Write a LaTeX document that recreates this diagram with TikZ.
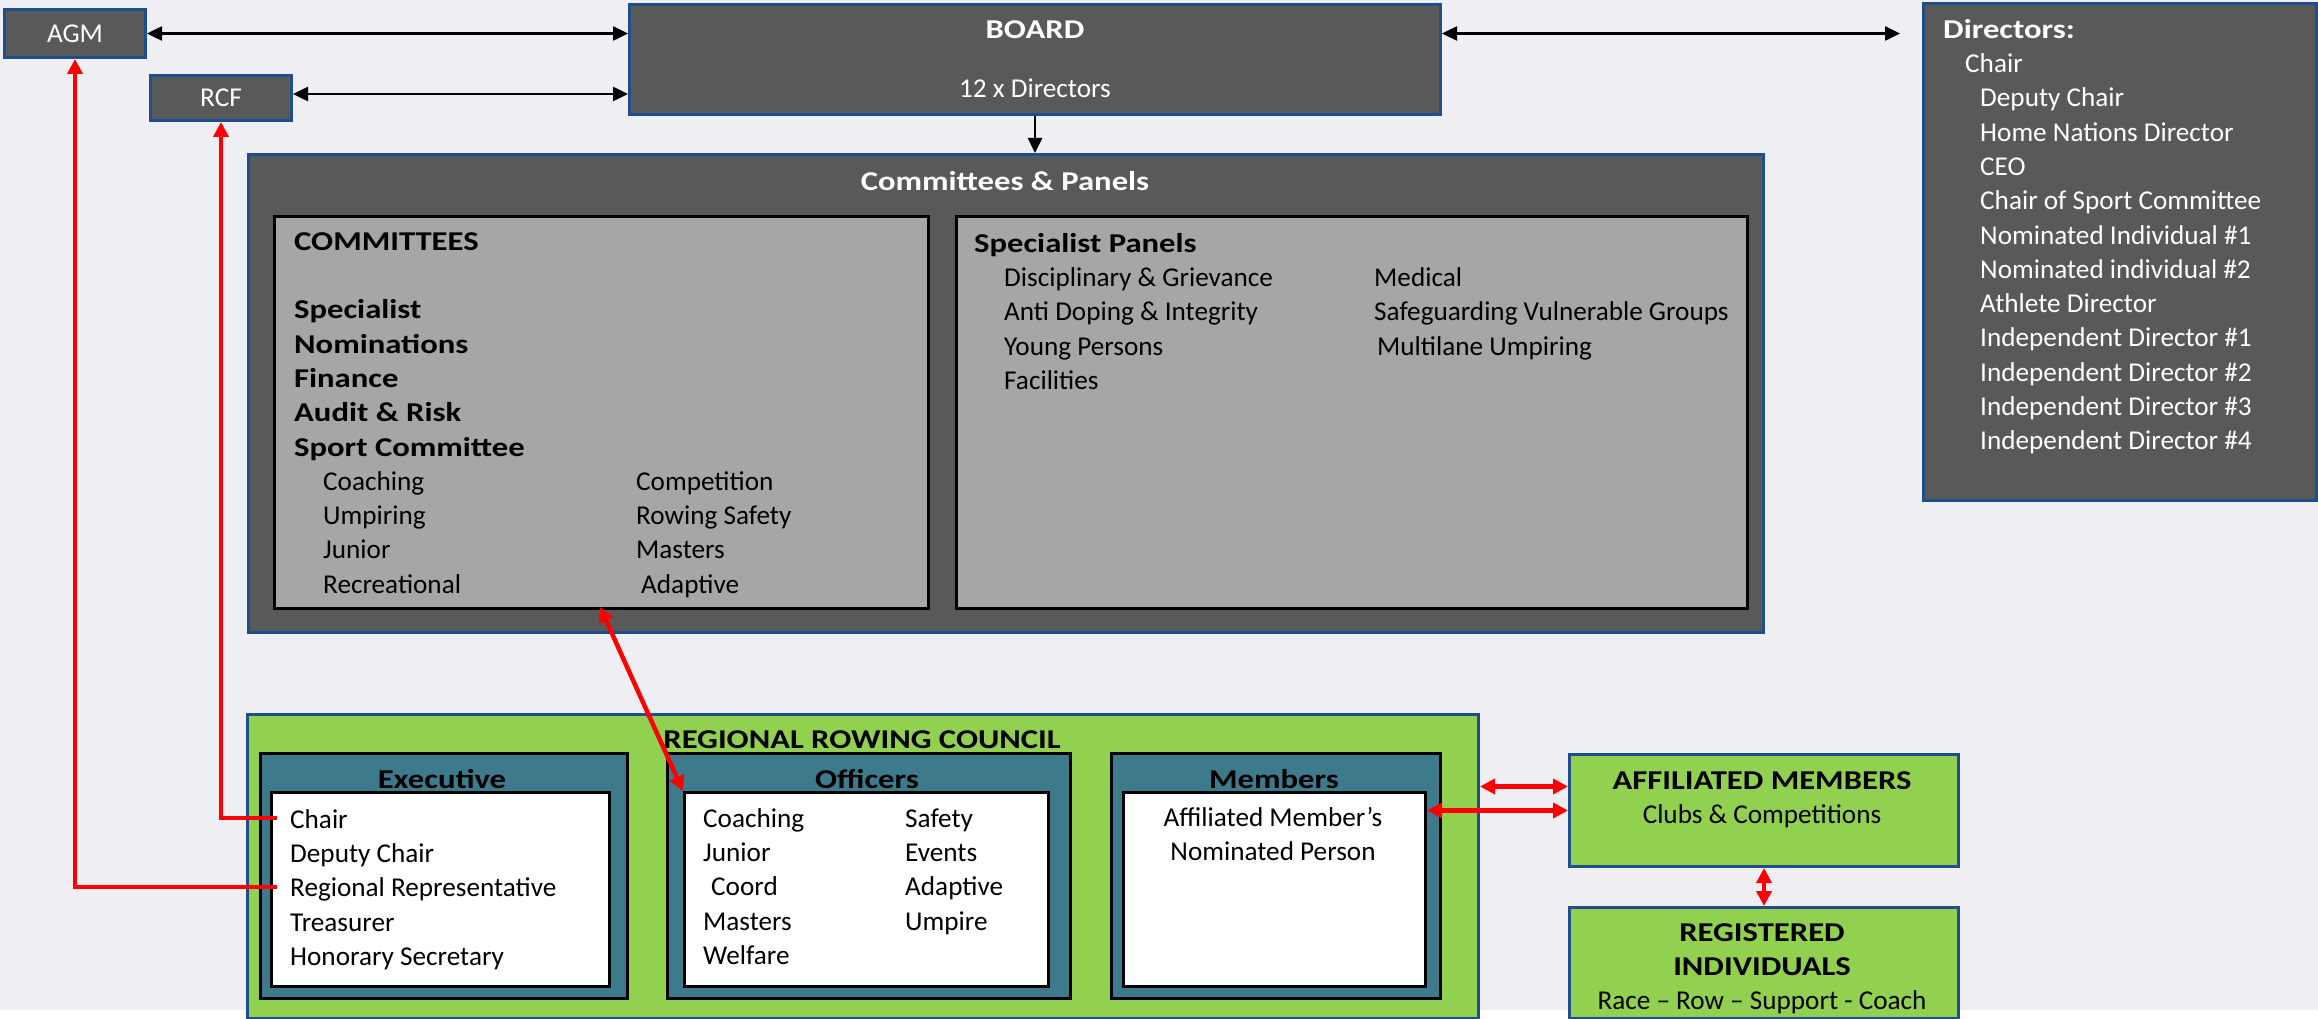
\documentclass[tikz,border=0pt]{standalone}
\usepackage{fontspec}
\setmainfont{Carlito}[BoldFeatures={FakeStretch=1.2}]
\usepackage{xcolor}
\usetikzlibrary{arrows.meta}
\usetikzlibrary{calc}
\definecolor{bggrey}{RGB}{238,238,243}
\definecolor{boardgrey}{RGB}{89,89,89}
\definecolor{panelgrey}{RGB}{166,166,166}
\definecolor{boxblue}{RGB}{31,78,140}
\definecolor{rowgreen}{RGB}{146,208,80}
\definecolor{councilteal}{RGB}{61,123,140}
\newcommand\chartfont{\fontsize{27.2}{34.3}\selectfont}
\tikzset{
    plain_box/.style = {inner sep=0pt, anchor=north west, line width=3pt, font=\chartfont},
    dark_box/.style = {plain_box, draw=boxblue, fill=boardgrey, text=white},
    grey_box/.style = {plain_box, draw=black, fill=panelgrey},
    green_box/.style = {plain_box, draw=boxblue, fill=rowgreen},
    teal_box/.style = {plain_box, draw=black, fill=councilteal},
    white_box/.style = {plain_box, draw=black, fill=white},
    list_node/.style = {inner sep=0pt, anchor=north west, align=left, font=\chartfont},
    title_node/.style = {inner sep=0pt, text height=17.5pt, text depth=0pt, font=\chartfont\bfseries},
    black_link/.style = {{Triangle[length=15pt,width=14pt]}-{Triangle[length=15pt,width=14pt]}, line width=2.5pt},
    black_arrow/.style = {-{Triangle[length=15pt,width=14pt]}, line width=2.5pt},
    red_link/.style = {red, {Triangle[length=15pt,width=15pt]}-{Triangle[length=15pt,width=15pt]}, line width=4.5pt},
    red_arrow/.style = {red, -{Triangle[length=15pt,width=15pt]}, line width=4.5pt}
}

\begin{document}
\begin{tikzpicture}[x=1pt, y=-1pt]
    \fill[bggrey] (0,0) rectangle (2318,1010);
    \fill[white] (0,1010) rectangle (2318,1019);
    \useasboundingbox (0,0) rectangle (2318,1019);

    % board level
    \node (agm) [dark_box, minimum width=141pt, minimum height=48pt] at (3,8) {AGM};
    \node (rcf) [dark_box, minimum width=141pt, minimum height=45pt] at (149,74) {RCF};
    \node (board) [dark_box, minimum width=811pt, minimum height=110pt, align=center] at (628,3)
        {\textbf{BOARD}\\[24.7pt]12 x Directors};
    \node (dirs) [dark_box, minimum width=393pt, minimum height=497pt] at (1922,2) {};
    \node (dirs_list) [list_node, text=white] at (1943,14) {\strut\textbf{Directors:}\\
        \hspace*{22pt}Chair\\
        \hspace*{37pt}Deputy Chair\\
        \hspace*{37pt}Home Nations Director\\
        \hspace*{37pt}CEO\\
        \hspace*{37pt}Chair of Sport Committee\\
        \hspace*{37pt}Nominated Individual \#1\\
        \hspace*{37pt}Nominated individual \#2\\
        \hspace*{37pt}Athlete Director\\
        \hspace*{37pt}Independent Director \#1\\
        \hspace*{37pt}Independent Director \#2\\
        \hspace*{37pt}Independent Director \#3\\
        \hspace*{37pt}Independent Director \#4};

    % committees and panels
    \node (cp) [dark_box, minimum width=1515pt, minimum height=478pt] at (247,153) {};
    \node (cp_title) [title_node, text=white] at (1005,182) {Committees \& Panels};
    \node (com) [grey_box, minimum width=654pt, minimum height=392pt] at (273,215) {};
    \node (com_list) [list_node] at (294,226) {\begin{tabular}{@{}p{29pt}@{}p{313pt}@{}l@{}}
        \multicolumn{3}{@{}l@{}}{\textbf{COMMITTEES}}\\
        \\
        \multicolumn{3}{@{}l@{}}{\textbf{Specialist}}\\
        \multicolumn{3}{@{}l@{}}{\textbf{Nominations}}\\
        \multicolumn{3}{@{}l@{}}{\textbf{Finance}}\\
        \multicolumn{3}{@{}l@{}}{\textbf{Audit \& Risk}}\\
        \multicolumn{3}{@{}l@{}}{\textbf{Sport Committee}}\\
        & Coaching & Competition\\
        & Umpiring & Rowing Safety\\
        & Junior & Masters\\
        & Recreational & \hspace*{5pt}Adaptive
        \end{tabular}};
    \node (sp) [grey_box, minimum width=791pt, minimum height=392pt] at (955,215) {};
    \node (sp_list) [list_node] at (974,228) {\begin{tabular}{@{}p{30pt}@{}p{370pt}@{}l@{}}
        \multicolumn{3}{@{}l@{}}{\textbf{Specialist Panels}}\\
        & Disciplinary \& Grievance & Medical\\
        & Anti Doping \& Integrity & Safeguarding Vulnerable Groups\\
        & Young Persons & \hspace*{3pt}Multilane Umpiring\\
        & Facilities &
        \end{tabular}};

    % regional rowing council
    \node (rrc) [green_box, minimum width=1231pt, minimum height=304pt] at (246,713) {};
    \node (rrc_title) [title_node] at (862,740) {REGIONAL ROWING COUNCIL};
    \node (exec) [teal_box, minimum width=367pt, minimum height=245pt] at (259,752) {};
    \node (exec_title) [title_node] at (442,780) {Executive};
    \node (exec_in) [white_box, minimum width=338pt, minimum height=194pt] at (270,791) {};
    \node (exec_list) [list_node] at (290,804)
        {\strut Chair\\Deputy Chair\\Regional Representative\\Treasurer\\Honorary Secretary};
    \node (off) [teal_box, minimum width=403pt, minimum height=245pt] at (666,752) {};
    \node (off_title) [title_node] at (867,780) {Officers};
    \node (off_in) [white_box, minimum width=364pt, minimum height=194pt] at (683,791) {};
    \node (off_list) [list_node] at (703,803) {\begin{tabular}{@{}p{202pt}@{}l@{}}
        Coaching & Safety\\
        Junior & Events\\
        \hspace*{8pt}Coord & Adaptive\\
        Masters & Umpire\\
        Welfare &
        \end{tabular}};
    \node (mem) [teal_box, minimum width=329pt, minimum height=245pt] at (1110,752) {};
    \node (mem_title) [title_node] at (1274,780) {Members};
    \node (mem_in) [white_box, minimum width=302pt, minimum height=194pt] at (1122,791) {};
    \node (mem_list) [list_node, anchor=north, align=center] at (1273,802)
        {\strut Affiliated Member’s\\Nominated Person};

    % members
    \node (aff) [green_box, minimum width=389pt, minimum height=112pt] at (1568,753) {};
    \node (aff_text) [list_node, anchor=north, align=center] at (1762,765)
        {\strut\textbf{AFFILIATED MEMBERS}\\Clubs \& Competitions};
    \node (reg) [green_box, minimum width=389pt, minimum height=111pt] at (1568,906) {};
    \node (reg_text) [list_node, anchor=north, align=center] at (1762,917)
        {\strut\textbf{REGISTERED}\\\textbf{INDIVIDUALS}\\Race – Row – Support - Coach};

    % links
    \coordinate (rcf_out) at ($(rcf.east)+(0,-4)$);
    \draw[black_link] (agm.east) -- (agm.east -| board.west);
    \draw[black_link] (rcf_out) -- (rcf_out -| board.west);
    \draw[black_link, shorten >=22pt] (agm.east -| board.east) -- (agm.east -| dirs.west);
    \draw[black_arrow] (board.south) -- (board.south |- cp.north);

    \coordinate (com_tip) at (600,607);
    \coordinate (aff_hi) at ($(aff.west)+(0,-24)$);
    \coordinate (chair_pt) at (277,818);
    \coordinate (rep_pt) at (277,887);
    \draw[red_link] (com_tip) -- (off_in.north west);
    \draw[red_link] (rrc.east |- aff_hi) -- (aff_hi);
    \draw[red_link] (mem_in.east |- aff.west) -- (aff.west);
    \draw[red_link] (aff.south) -- (reg.north);
    \draw[red_arrow] (chair_pt) -| (rcf.south);
    \draw[red_arrow] (rep_pt) -| (agm.south);
\end{tikzpicture}
\end{document}
